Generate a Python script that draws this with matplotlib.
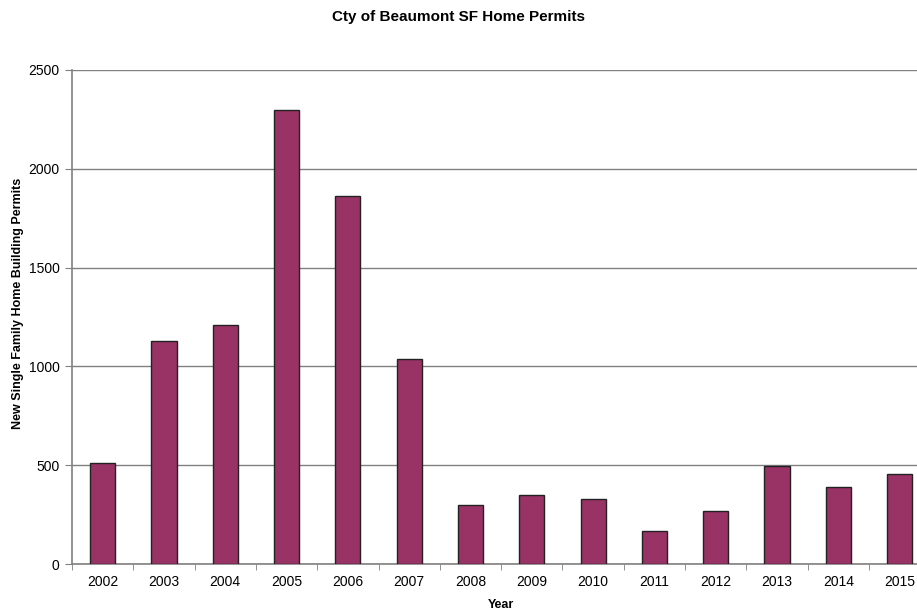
import matplotlib
matplotlib.use('Agg')
import matplotlib.pyplot as plt
import numpy as np

plt.rcParams['font.family'] = ['Liberation Sans', 'DejaVu Sans']

years = ['2002', '2003', '2004', '2005', '2006', '2007', '2008',
         '2009', '2010', '2011', '2012', '2013', '2014', '2015']
permits = [511, 1130, 1211, 2295, 1860, 1035, 300,
           350, 330, 167, 270, 496, 388, 454]

fig = plt.figure(figsize=(9.17, 6.16), dpi=100)
ax = fig.add_axes([0.0785, 0.0844, 0.936, 0.802])

x = np.arange(len(years))
ax.bar(x, permits, width=0.41, color='#993366', edgecolor='#222222', linewidth=1.0, zorder=3)

ax.set_xlim(-0.5, len(years) - 0.5)
ax.set_ylim(0, 2500)
ax.set_yticks(np.arange(0, 2501, 500))
ax.yaxis.grid(True, color='#808080', linewidth=1.0, zorder=0)

ax.set_xticks(x)
ax.set_xticklabels(years, fontsize=10)
ax.set_xticks(np.arange(-0.5, len(years), 1), minor=True)
ax.tick_params(axis='x', which='major', length=0, pad=8)
ax.tick_params(axis='x', which='minor', length=4, color='#808080')
ax.tick_params(axis='y', length=5, color='#808080', labelsize=10, pad=4)

for s in ['top', 'right']:
    ax.spines[s].set_visible(False)
for s in ['left', 'bottom']:
    ax.spines[s].set_color('#808080')
    ax.spines[s].set_linewidth(1.2)

fig.text(501 / 917, 1 - 605 / 616, 'Year', ha='center', va='center', fontsize=9, fontweight='bold')
fig.text(18 / 917, 1 - 303 / 616, 'New Single Family Home Building Permits',
         rotation=90, ha='center', va='center', fontsize=9, fontweight='bold')
fig.text(0.5, 1 - 17 / 616, 'Cty of Beaumont SF Home Permits', ha='center', va='center',
         fontsize=11, fontweight='bold')

plt.savefig('out.png', dpi=100)
plt.close()
